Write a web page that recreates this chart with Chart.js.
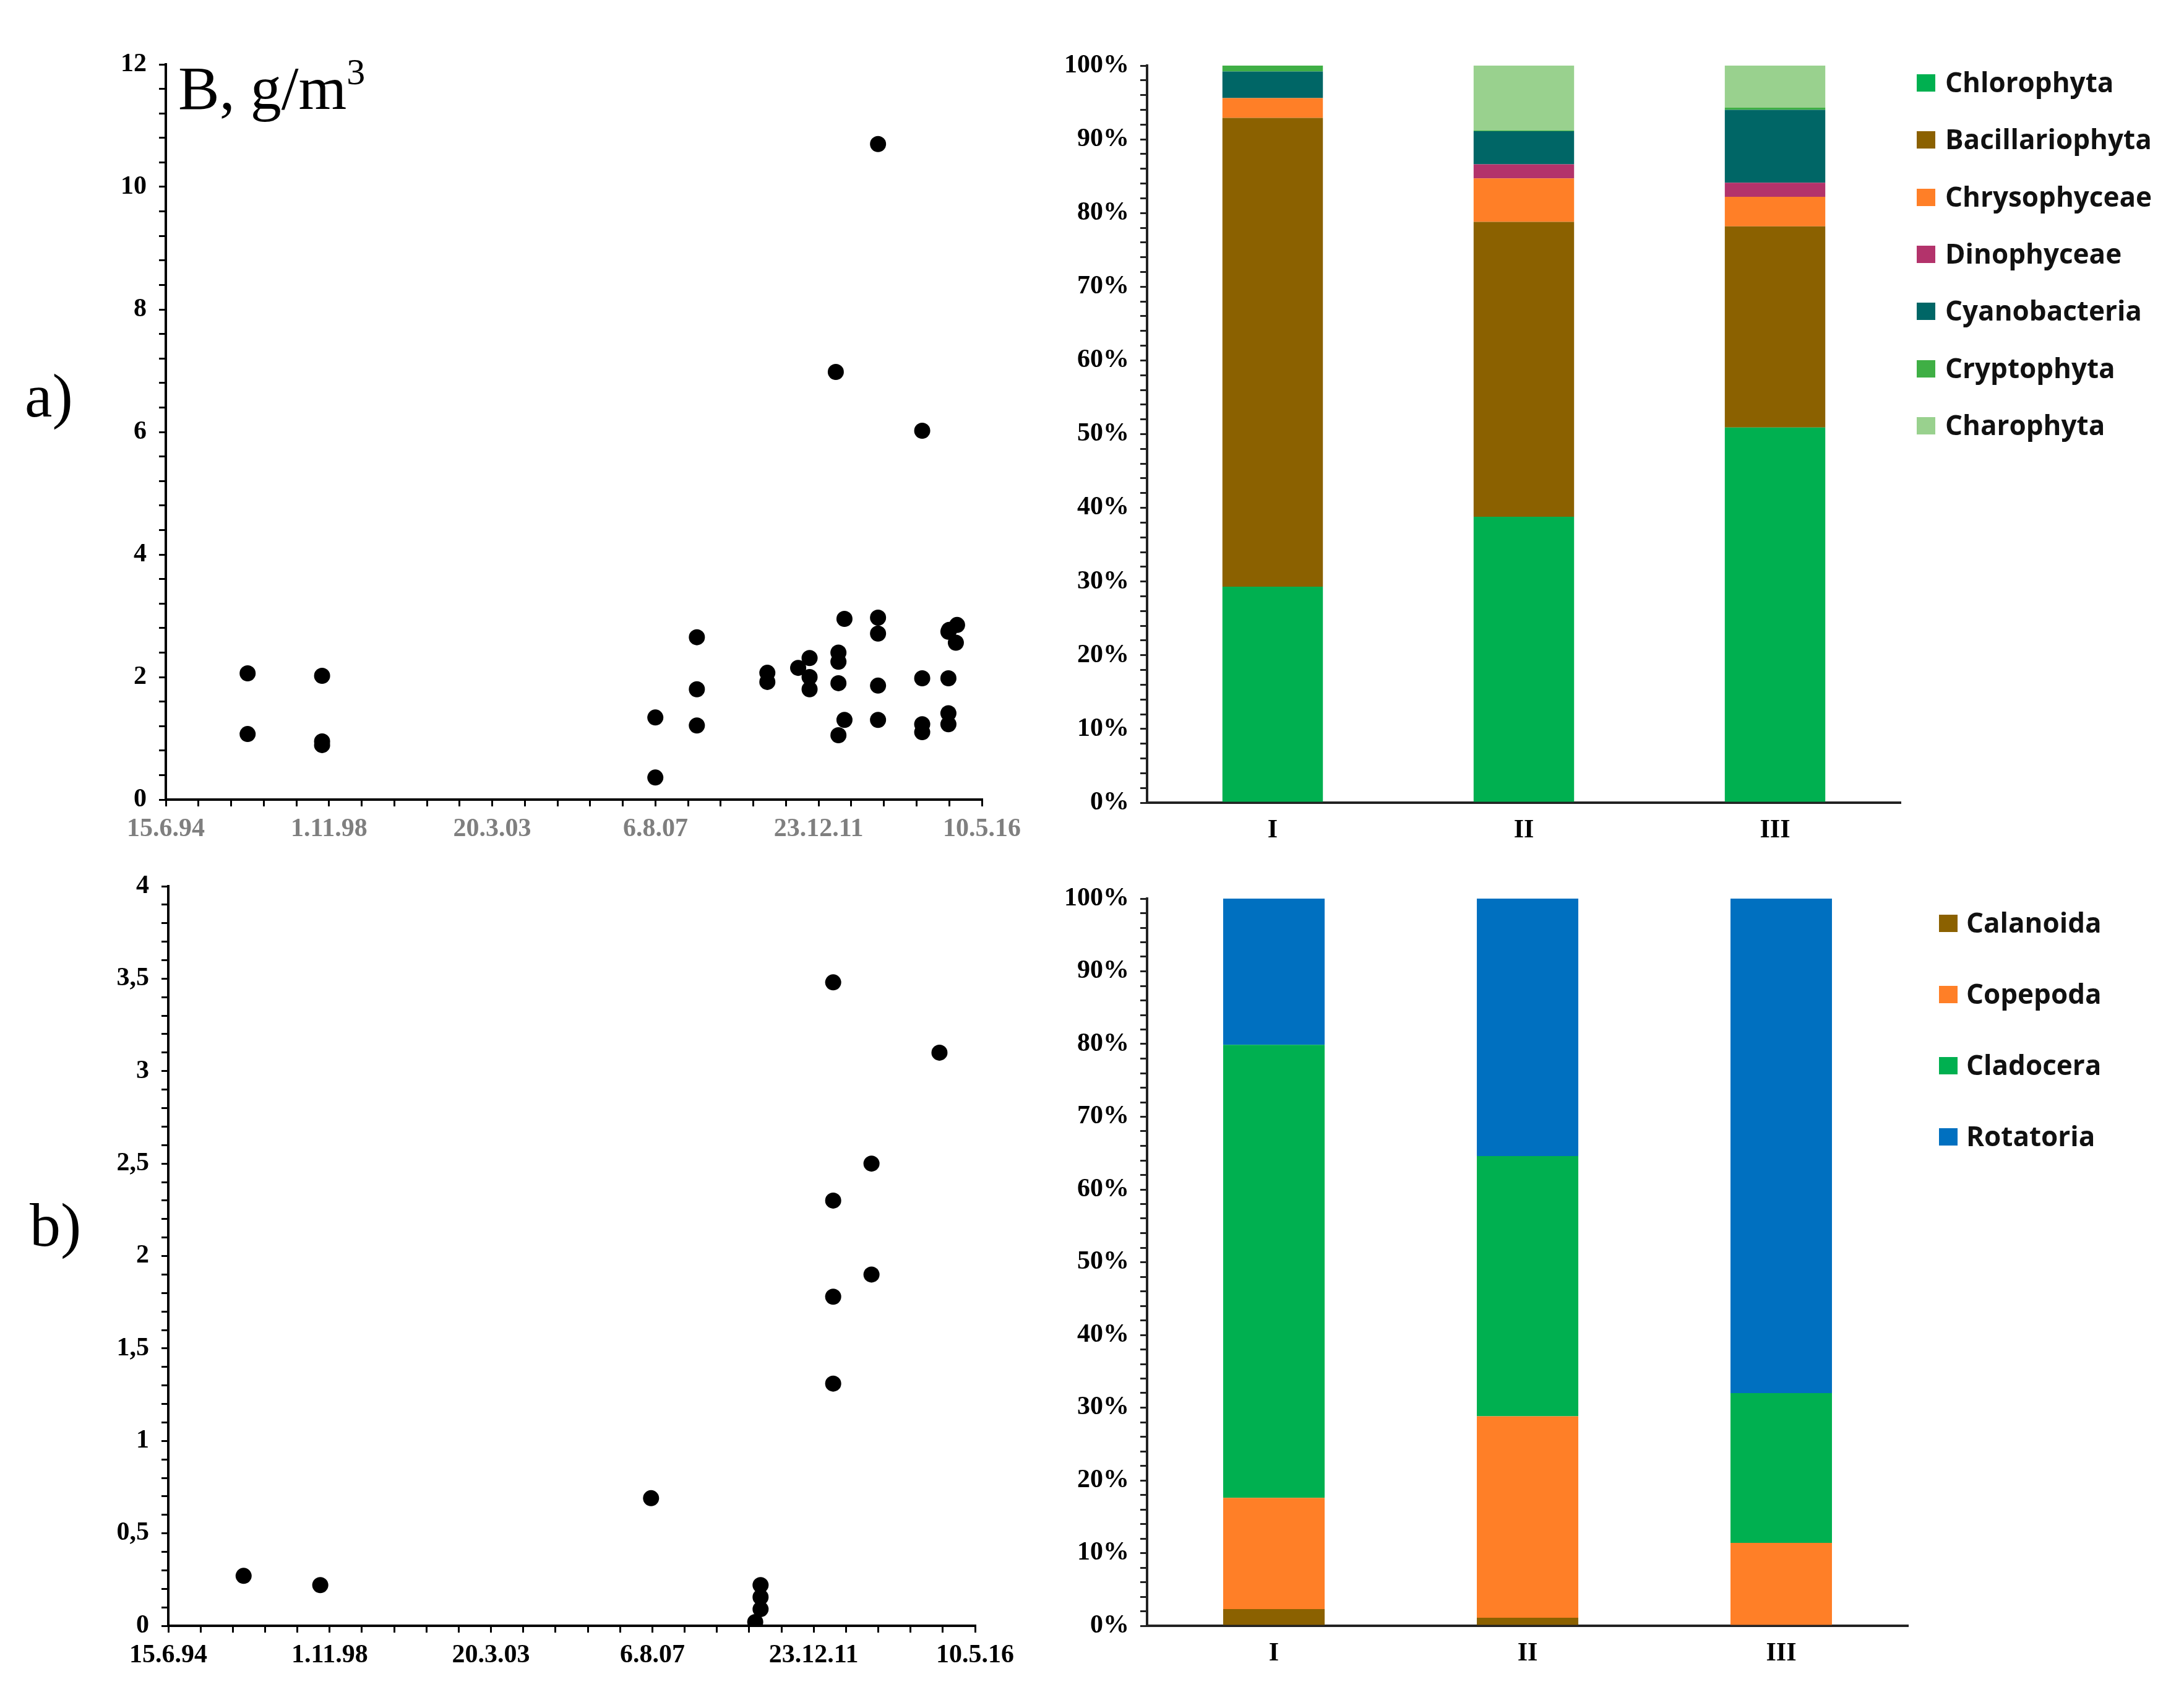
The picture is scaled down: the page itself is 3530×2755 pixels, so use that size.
<!DOCTYPE html>
<html>
<head>
<meta charset="utf-8">
<script src="https://cdn.jsdelivr.net/npm/chart.js@4.4.1/dist/chart.umd.min.js"></script>
<style>
  body { margin: 0; background: #fff; width: 3530px; height: 2755px; position: relative; overflow: hidden; }
  .box { position: absolute; }
  .lbl { position: absolute; font-family: 'Liberation Serif', 'Times New Roman', serif; color: #000; line-height: 1; white-space: nowrap; }
  .leg { position: absolute; font-family: 'Open Sans', sans-serif; font-weight: 700; font-size: 44px; color: #111; line-height: 1; white-space: nowrap; }
  .sw { position: absolute; width: 30px; height: 28px; }
</style>
</head>
<body>

<div class="box" style="left:0;top:0"><canvas id="phytoScatter" width="1700" height="1380"></canvas></div>
<div class="box" style="left:1700px;top:0"><canvas id="phytoBars" width="1830" height="1380"></canvas></div>
<div class="box" style="left:0;top:1380px"><canvas id="zooScatter" width="1700" height="1375"></canvas></div>
<div class="box" style="left:1700px;top:1380px"><canvas id="zooBars" width="1830" height="1375"></canvas></div>

<div class="lbl" style="left:288px;top:86px;font-size:100px">B, g/m<sup style="font-size:60px;vertical-align:40px">3</sup></div>
<div class="lbl" style="left:40px;top:590px;font-size:100px">a)</div>
<div class="lbl" style="left:48px;top:1930px;font-size:100px">b)</div>

<div id="legends"></div>

<script>
// date axis: Excel day serials, labels every 1600 days
const dateTicks = ['15.6.94', '1.11.98', '20.3.03', '6.8.07', '23.12.11', '10.5.16'];

// a) phytoplankton biomass, g/m3
const phytoDates = [35302, 35302, 36032, 36032, 36032, 39299, 39299, 39706, 39706, 39706,
  40397, 40397, 40699, 40811, 40811, 40811, 41094, 41094, 41094, 41094, 41068, 41153, 41153,
  41482, 41482, 41482, 41482, 41482, 41915, 41915, 41915, 41915, 42172, 42172, 42172, 42172,
  42257, 42245, 42180];
const phytoBiomass = [2.06, 1.07, 2.02, 0.95, 0.89, 1.34, 0.36, 2.65, 1.80, 1.21,
  2.07, 1.92, 2.15, 2.31, 2.00, 1.80, 2.40, 2.25, 1.90, 1.05, 6.98, 2.95, 1.30,
  10.70, 2.97, 2.71, 1.86, 1.30, 6.02, 1.98, 1.23, 1.10, 2.74, 1.98, 1.41, 1.23,
  2.85, 2.56, 2.77];

// b) zooplankton biomass, g/m3
const zooDates = [35247, 36007, 39287, 40320, 40373, 40373, 40373, 41093, 41093, 41093, 41093, 41473, 41473, 42147];
const zooBiomass = [0.27, 0.22, 0.69, 0.02, 0.09, 0.155, 0.22, 3.48, 2.30, 1.78, 1.31, 2.50, 1.90, 3.10];

// structure, % of biomass
const sites = ['I', 'II', 'III'];
const phytoGroups = ['Chlorophyta', 'Bacillariophyta', 'Chrysophyceae', 'Dinophyceae', 'Cyanobacteria', 'Cryptophyta', 'Charophyta'];
const chlorophyta = [29.3, 38.8, 50.9];
const bacillariophyta = [63.6, 40.0, 27.3];
const chrysophyceae = [2.7, 5.9, 4.0];
const dinophyceae = [0.0, 1.9, 1.9];
const cyanobacteria = [3.6, 4.5, 9.9];
const cryptophyta = [0.8, 0.1, 0.3];
const charophyta = [0.0, 8.8, 5.7];

const zooGroups = ['Calanoida', 'Copepoda', 'Cladocera', 'Rotatoria'];
const calanoida = [2.3, 1.1, 0.0];
const copepoda = [15.3, 27.7, 11.4];
const cladocera = [62.3, 35.8, 20.6];
const rotatoria = [20.1, 35.4, 68.0];

const phytoColors = ['#00B050', '#8B6100', '#FF7F27', '#B3336B', '#006666', '#3FAF45', '#99D18E'];
const zooColors = ['#8B6100', '#FF7F27', '#00B050', '#0070C0'];

const serif = 'Liberation Serif';

function fixedWidth(w) { return (scale) => { scale.width = w; }; }
function fixedHeight(h) { return (scale) => { scale.height = h; }; }

function scatterChart(id, xs, ys, yMax, yStep, yMajor, yFmt, xColor, yWidth, xHeight, pad) {
  const pts = xs.map((x, i) => ({ x: x, y: ys[i] }));
  return new Chart(document.getElementById(id), {
    type: 'scatter',
    data: { datasets: [{ data: pts, backgroundColor: '#000', borderWidth: 0, pointRadius: 13, pointHoverRadius: 13 }] },
    options: {
      responsive: false, animation: false, devicePixelRatio: 1,
      layout: { padding: pad },
      plugins: { legend: { display: false }, tooltip: { enabled: false } },
      scales: {
        x: {
          type: 'linear', min: 34500, max: 42500,
          afterFit: fixedHeight(xHeight),
          ticks: {
            stepSize: 320, autoSkip: false, maxRotation: 0, padding: 12,
            color: xColor, font: { family: serif, size: 42, weight: 'bold' },
            callback: (v) => {
              const k = (Math.round(v) - 34500) / 1600;
              return Number.isInteger(k) ? dateTicks[k] : '';
            }
          },
          grid: { display: true, drawOnChartArea: false, tickLength: 11, color: '#000', lineWidth: 3 },
          border: { display: true, color: '#000', width: 4 }
        },
        y: {
          min: 0, max: yMax,
          afterFit: fixedWidth(yWidth),
          ticks: {
            stepSize: yStep, autoSkip: false, padding: 20,
            color: '#000', font: { family: serif, size: 42, weight: 'bold' },
            callback: (v) => {
              const k = v / yMajor;
              return Math.abs(k - Math.round(k)) < 1e-6 ? yFmt(Math.round(k) * yMajor) : '';
            }
          },
          grid: { display: true, drawOnChartArea: false, tickLength: 11, color: '#000', lineWidth: 3 },
          border: { display: true, color: '#000', width: 4 }
        }
      }
    }
  });
}

function barChart(id, series, colors, names, xHeight, pad) {
  return new Chart(document.getElementById(id), {
    type: 'bar',
    data: {
      labels: sites,
      datasets: series.map((s, i) => ({
        label: names[i], data: s, backgroundColor: colors[i], borderWidth: 0,
        categoryPercentage: 1, barPercentage: 0.4
      }))
    },
    options: {
      responsive: false, animation: false, devicePixelRatio: 1,
      layout: { padding: pad },
      plugins: { legend: { display: false }, tooltip: { enabled: false } },
      scales: {
        x: {
          stacked: true,
          afterFit: fixedHeight(xHeight),
          ticks: { padding: 12, color: '#000', font: { family: serif, size: 42, weight: 'bold' } },
          grid: { display: false },
          border: { display: true, color: '#222', width: 4 }
        },
        y: {
          stacked: true, min: 0, max: 100,
          afterFit: fixedWidth(150),
          ticks: {
            stepSize: 2, autoSkip: false, padding: 18,
            color: '#000', font: { family: serif, size: 42, weight: 'bold' },
            callback: (v) => (Math.round(v) % 10 === 0 ? Math.round(v) + '%' : '')
          },
          grid: { display: true, drawOnChartArea: false, tickLength: 11, color: '#222', lineWidth: 3 },
          border: { display: true, color: '#222', width: 4 }
        }
      }
    }
  });
}

function buildLegend(names, colors, sqX, textX, y0, dy) {
  const host = document.getElementById('legends');
  names.forEach((n, i) => {
    const cy = y0 + i * dy;
    const sw = document.createElement('div');
    sw.className = 'sw';
    sw.style.left = sqX + 'px';
    sw.style.top = (cy - 14) + 'px';
    sw.style.background = colors[i];
    host.appendChild(sw);
    const t = document.createElement('div');
    t.className = 'leg';
    t.style.left = textX + 'px';
    t.style.top = (cy - 24) + 'px';
    t.textContent = n;
    host.appendChild(t);
  });
}

scatterChart('phytoScatter', phytoDates, phytoBiomass, 12, 0.4, 2, (v) => String(v), '#7f7f7f',
  268, 88, { top: 104, right: 113, left: 0, bottom: 0 });
scatterChart('zooScatter', zooDates, zooBiomass, 4, 0.1, 0.5, (v) => String(v).replace('.', ','), '#000',
  272, 128, { top: 52, right: 124, left: 0, bottom: 0 });

barChart('phytoBars', [chlorophyta, bacillariophyta, chrysophyceae, dinophyceae, cyanobacteria, cryptophyta, charophyta],
  phytoColors, phytoGroups, 83, { top: 106, right: 458, left: 4, bottom: 0 });
barChart('zooBars', [calanoida, copepoda, cladocera, rotatoria],
  zooColors, zooGroups, 128, { top: 72, right: 446, left: 4, bottom: 0 });

buildLegend(phytoGroups, phytoColors, 3098, 3144, 134, 92.3);
buildLegend(zooGroups, zooColors, 3134, 3178, 1492, 115);
</script>
</body>
</html>
